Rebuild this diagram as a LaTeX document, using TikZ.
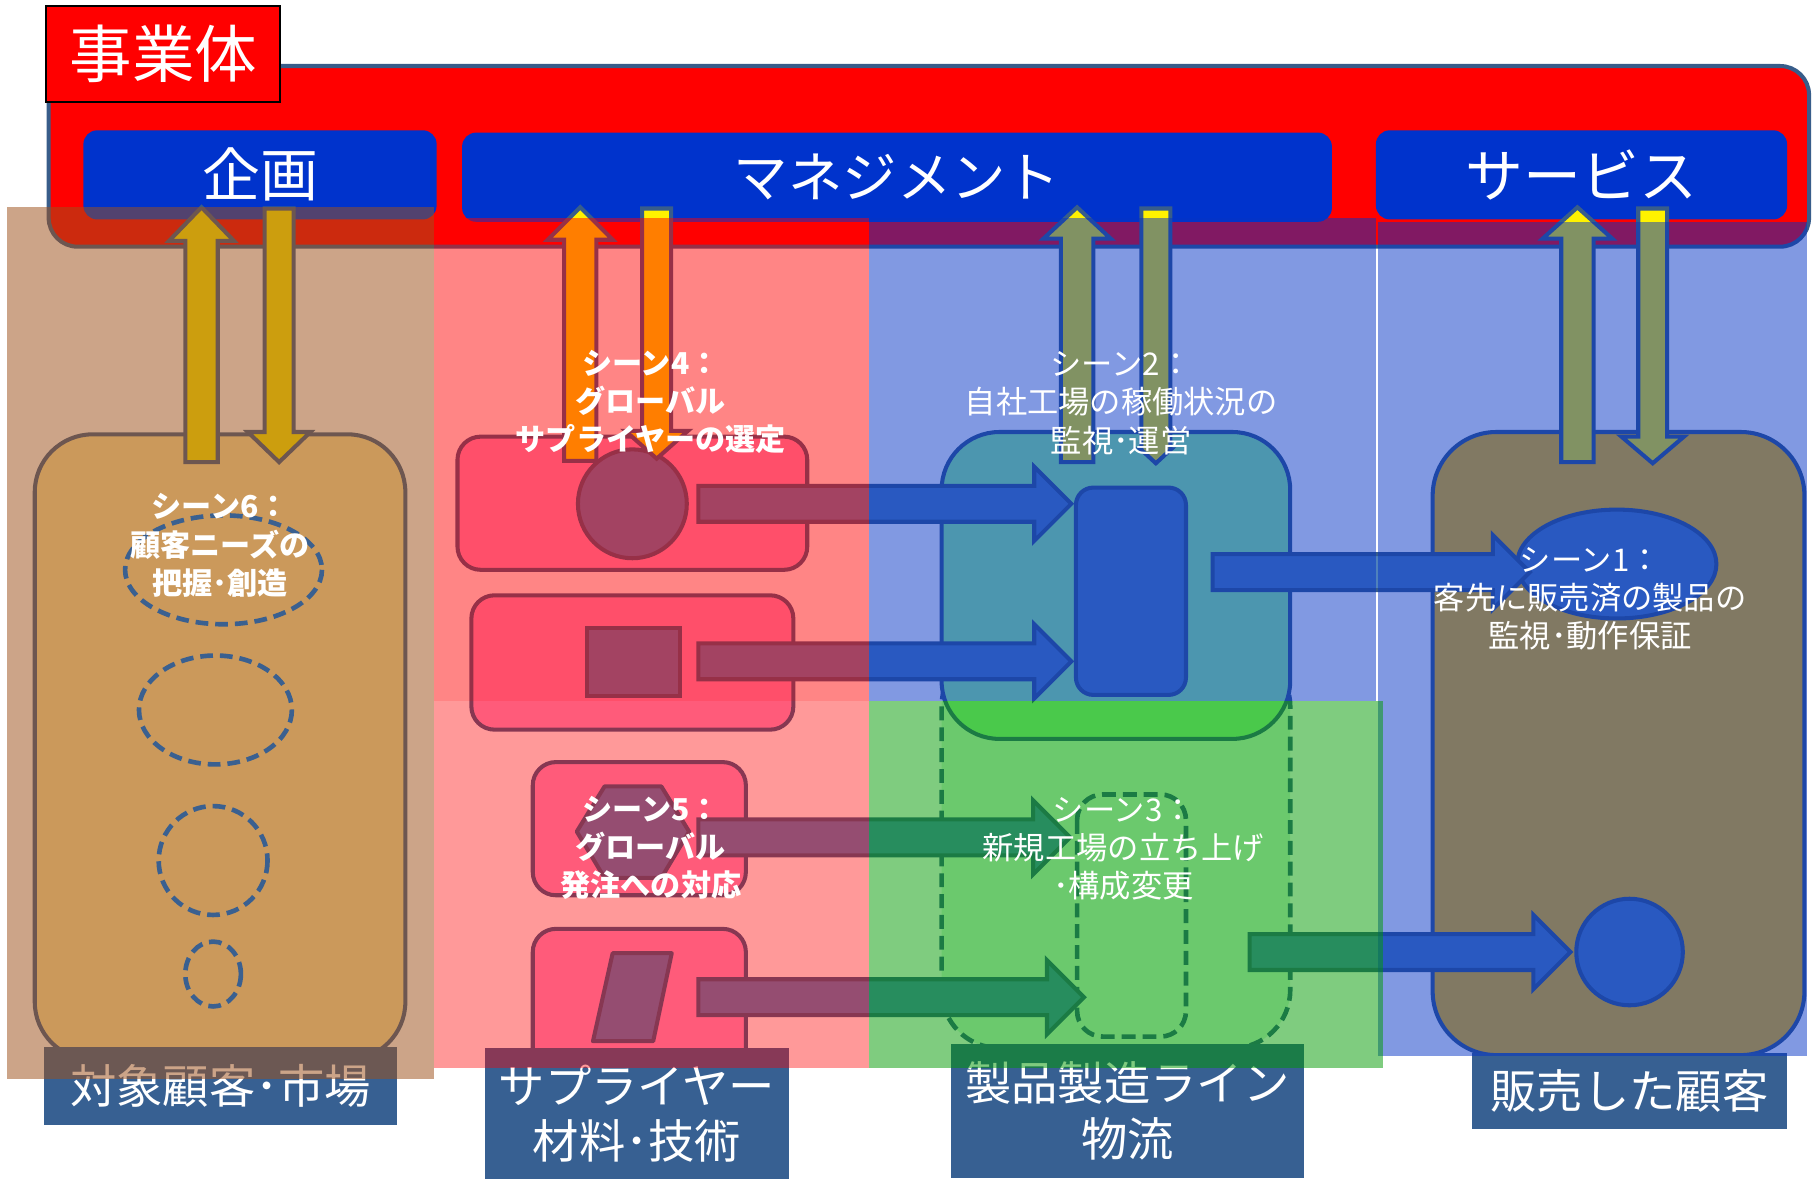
\documentclass[tikz,border=0pt]{standalone}
\usepackage{fontspec}
\setmainfont{Noto Sans CJK JP}
\usetikzlibrary{calc}
\definecolor{rimblue}{HTML}{385D8A}
\definecolor{headblue}{HTML}{0033CC}
\definecolor{defblue}{HTML}{4F81BD}
\definecolor{pinkbox}{HTML}{FF99CC}
\definecolor{palegreen}{HTML}{96FA98}
\definecolor{dashfill}{HTML}{D8FADC}
\definecolor{gold}{HTML}{FFC000}
\definecolor{tanbox}{HTML}{FDE8A2}
\definecolor{labelblue}{HTML}{376092}
\definecolor{brownlay}{HTML}{9E511B}
\definecolor{bluelay}{HTML}{0433C6}
\definecolor{greenlay}{HTML}{009900}
\definecolor{ringblue}{HTML}{3A6090}

% block arrows
\newcommand\vup[6]{% x, tip y, bottom y, shaft half, head half, head length
  \draw[yarrow] (#1-#4,#3) -- (#1-#4,#2+#6) -- (#1-#5,#2+#6) -- (#1,#2)
    -- (#1+#5,#2+#6) -- (#1+#4,#2+#6) -- (#1+#4,#3) -- cycle;}
\newcommand\vdn[6]{% x, top y, tip y, shaft half, head half, head length
  \draw[yarrow] (#1-#4,#2) -- (#1-#4,#3-#6) -- (#1-#5,#3-#6) -- (#1,#3)
    -- (#1+#5,#3-#6) -- (#1+#4,#3-#6) -- (#1+#4,#2) -- cycle;}
\newcommand\hrt[3]{% x start, x tip, y
  \draw[barrow] (#1,#3-15.5) -- (#2-32,#3-15.5) -- (#2-32,#3-32) -- (#2,#3)
    -- (#2-32,#3+32) -- (#2-32,#3+15.5) -- (#1,#3+15.5) -- cycle;}

\begin{document}
\begin{tikzpicture}[x=1pt,y=-1pt,
  rim/.style={draw=rimblue, line width=3.5pt},
  headbox/.style={fill=headblue, rounded corners=12pt, text=white, inner sep=0pt,
    font=\fontsize{50}{50}\selectfont},
  yarrow/.style={rim, fill=yellow, line join=miter},
  barrow/.style={rim, fill=defblue, line join=miter},
  supbox/.style={rim, fill=pinkbox, rounded corners=20pt},
  part/.style={rim, fill=defblue},
  dashbox/.style={rim, line width=4pt, dash pattern=on 12pt off 6pt},
  ring/.style={draw=ringblue, line width=4pt, dash pattern=on 11pt off 6pt},
  tag/.style={fill=labelblue, text=white, inner sep=0pt, align=center,
    font=\fontsize{40}{48}\selectfont},
  scene/.style={text=white, align=center, font=\fontsize{27}{33}\selectfont},
  scenebf/.style={scene, font=\fontsize{26}{33}\selectfont\bfseries}]
\useasboundingbox (0,0) rectangle (1568,1020);

% business frame
\draw[rim, fill=red, rounded corners=25pt] (42,57) rectangle (1562,213);
\node[draw=black, line width=1.5pt, fill=red, text=white, minimum width=202pt,
  minimum height=83pt, inner sep=0pt, font=\fontsize{54}{54}\selectfont]
  (biz) at (141,46.5) {事業体};
\node[headbox, minimum width=305pt, minimum height=77pt] (plan) at (224.5,151) {企画};
\node[headbox, minimum width=751pt, minimum height=77pt,
  font=\fontsize{47}{47}\selectfont] (mgmt) at (774.5,153) {マネジメント};
\node[headbox, minimum width=355pt, minimum height=77pt] (serv) at (1365.5,151) {サービス};

% market column
\draw[rim, fill=tanbox, rounded corners=50pt] (30,375) rectangle (350,915);
\vup{174}{179}{399}{14}{28}{29}
\vdn{241}{180}{399}{12.5}{27}{26}

% supplier column
\draw[supbox] (395,377) rectangle (697,492);
\draw[supbox] (407,514) rectangle (685,630);
\draw[supbox] (460,658) rectangle (644,773);
\draw[supbox] (460,802) rectangle (644,935);
\draw[part] (546,435) circle (47);
\draw[part] (507,542) rectangle (587,601);
\draw[part, line join=round] (498,718) -- (522,679) -- (571,679) -- (595,718)
  -- (571,758) -- (522,758) -- cycle;
\draw[part, line join=round] (529,823) -- (580,823) -- (564,899) -- (512,899) -- cycle;
\vup{501}{179}{398}{14}{28}{28}
\vdn{567}{180}{396}{12.5}{27}{24}

% factory column
\draw[dashbox, fill=dashfill, rounded corners=50pt] (813,560) rectangle (1114,905);
\draw[rim, fill=palegreen, rounded corners=50pt] (813,373) rectangle (1114,638);
\draw[part, rounded corners=15pt] (929,421) rectangle (1024,600);
\draw[dashbox, rounded corners=22pt] (930,686) rectangle (1024,895);
\vup{930}{179}{399}{14}{29}{27}
\vdn{998}{180}{400}{12.5}{13}{12}

% customer column
\draw[rim, fill=gold, rounded corners=55pt] (1237,373) rectangle (1558,911);
\draw[part] (1396,487) ellipse [x radius=86, y radius=47];
\draw[part] (1407,822) circle (46);
\vup{1362}{179}{399}{14}{30}{27}
\vdn{1427}{180}{400}{12.5}{27}{23}

% flows
\hrt{603}{925}{435}
\hrt{603}{925}{571}
\hrt{603}{924}{723}
\hrt{603}{936}{861}
\hrt{1047}{1321}{494}
\hrt{1079}{1356}{822}

% column tags
\node[tag, minimum width=305pt, minimum height=67pt] (market) at (190.5,937.5) {対象顧客･市場};
\node[tag, minimum width=262pt, minimum height=113pt] (supplier) at (550,961.5)
  {サプライヤー\\材料･技術};
\node[tag, minimum width=305pt, minimum height=116pt] (line) at (973.5,959)
  {製品製造ライン\\物流};
\node[tag, minimum width=272pt, minimum height=66pt] (sold) at (1407,942) {販売した顧客};

% column overlays
\fill[brownlay, fill opacity=.52] (6,179) rectangle (375,932);
\fill[red, fill opacity=.48] (375,188) rectangle (750,605);
\fill[red, fill opacity=.4] (375,605) rectangle (750,922);
\fill[bluelay, fill opacity=.5] (750,188) rectangle (1188,605);
\fill[bluelay, fill opacity=.5] (1190,192) rectangle (1560,912);
\fill[greenlay, fill opacity=.5] (750,605) rectangle (1194,922);

% needs
\draw[ring] (193,492) ellipse [x radius=85, y radius=47];
\draw[ring] (186,613) ellipse [x radius=66, y radius=47];
\draw[ring] (184,743) ellipse [x radius=47, y radius=47];
\draw[ring] (184,841) ellipse [x radius=24, y radius=28];

% scenes
\node[scenebf] (s6) at (190,471) {シーン6：\\顧客ニーズの\\把握･創造};
\node[scenebf] (s4) at (562,347) {シーン4：\\グローバル\\サプライヤーの選定};
\node[scenebf] (s5) at (562,732) {シーン5：\\グローバル\\発注への対応};
\node[scene] (s2) at (968,348) {シーン2：\\自社工場の稼働状況の\\監視･運営};
\node[scene] (s3) at (970,733) {シーン3：\\新規工場の立ち上げ\\･構成変更};
\node[scene] (s1) at (1373,517) {シーン1：\\客先に販売済の製品の\\監視･動作保証};
\end{tikzpicture}
\end{document}
